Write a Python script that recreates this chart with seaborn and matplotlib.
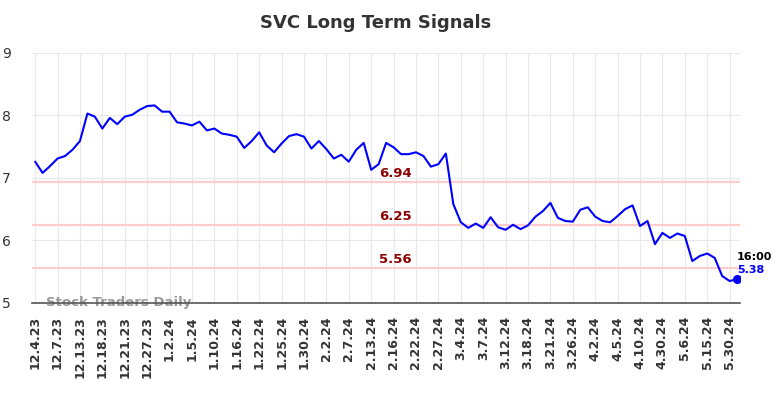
#!/usr/bin/env python3
"""
plot.py - SVC long term signals chart
"""
import matplotlib
matplotlib.use("Agg")
import matplotlib.pyplot as plt
import seaborn as sns
import pandas as pd

precios = [
    7.26, 7.08, 7.19, 7.31, 7.35, 7.45, 7.59, 8.03, 7.98, 7.79,
    7.96, 7.86, 7.98, 8.01, 8.09, 8.15, 8.16, 8.06, 8.06, 7.89,
    7.87, 7.84, 7.90, 7.76, 7.79, 7.71, 7.69, 7.66, 7.48, 7.59,
    7.73, 7.52, 7.41, 7.55, 7.67, 7.70, 7.66, 7.47, 7.59, 7.46,
    7.31, 7.37, 7.26, 7.45, 7.56, 7.13, 7.22, 7.56, 7.49, 7.38,
    7.38, 7.41, 7.35, 7.18, 7.22, 7.39, 6.58, 6.29, 6.20, 6.27,
    6.20, 6.37, 6.21, 6.17, 6.25, 6.18, 6.24, 6.38, 6.47, 6.60,
    6.36, 6.31, 6.30, 6.49, 6.53, 6.38, 6.31, 6.29, 6.39, 6.50,
    6.56, 6.23, 6.31, 5.94, 6.12, 6.04, 6.11, 6.07, 5.67, 5.75,
    5.79, 5.72, 5.43, 5.35, 5.38,
]
etiquetas_fecha = [
    "12.4.23", "12.7.23", "12.13.23", "12.18.23", "12.21.23", "12.27.23",
    "1.2.24", "1.5.24", "1.10.24", "1.16.24", "1.22.24", "1.25.24",
    "1.30.24", "2.2.24", "2.7.24", "2.13.24", "2.16.24", "2.22.24",
    "2.27.24", "3.4.24", "3.7.24", "3.12.24", "3.18.24", "3.21.24",
    "3.26.24", "4.2.24", "4.5.24", "4.10.24", "4.30.24", "5.6.24",
    "5.15.24", "5.30.24",
]
niveles = [6.94, 6.25, 5.56]
ultima_hora = "16:00"

df = pd.DataFrame({"idx": range(len(precios)), "precio": precios})

sns.set_style("whitegrid", {"grid.color": "#e8e8e8"})
fig = plt.figure(figsize=(7.84, 3.98), dpi=100)
ax = fig.add_axes([0.041, 0.239, 0.903, 0.628])

for nivel in niveles:
    ax.axhline(nivel, color="#ffcccc", lw=1.6, zorder=1)
    ax.text(48.2, nivel + 0.03, f"{nivel:.2f}", color="#8b0000", fontsize=9.5,
            fontweight="bold", ha="center", va="bottom", zorder=3)

sns.lineplot(data=df, x="idx", y="precio", color="#0000ff", lw=1.5, ax=ax, zorder=4)
ultimo = len(precios) - 1
ax.scatter([ultimo], [precios[-1]], color="#0000ff", s=30, zorder=5)
ax.text(ultimo, precios[-1] + 0.27, ultima_hora, fontsize=8, fontweight="bold",
        color="black", ha="left", va="bottom")
ax.text(ultimo, precios[-1] + 0.07, f"{precios[-1]:.2f}", fontsize=8,
        fontweight="bold", color="#0000ff", ha="left", va="bottom")

ax.text(1.5, 5.0, "Stock Traders Daily", fontsize=9.5, fontweight="bold",
        color="#999999", ha="left", va="center", zorder=2)

ax.set_xlim(-0.4, 94.4)
ax.set_ylim(5, 9)
ax.set_yticks([5, 6, 7, 8, 9])
ax.set_xticks(range(0, len(etiquetas_fecha) * 3, 3))
ax.set_xticklabels(etiquetas_fecha, rotation=90, fontsize=9, fontweight="bold",
                   color="#333333")
ax.tick_params(axis="y", labelsize=10, labelcolor="#333333", pad=12)
ax.tick_params(axis="x", pad=6)
ax.set_xlabel("")
ax.set_ylabel("")
for lado in ["top", "right", "left"]:
    ax.spines[lado].set_visible(False)
ax.spines["bottom"].set_color("#555555")
ax.spines["bottom"].set_linewidth(1.2)

fig.suptitle("SVC Long Term Signals", x=0.479, y=0.965, fontsize=13,
             fontweight="bold", color="#333333")

fig.savefig("out.png", dpi=100)
plt.close(fig)
